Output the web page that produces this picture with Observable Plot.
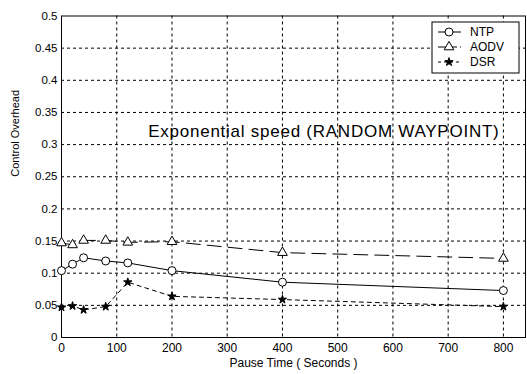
<!DOCTYPE html>
<html>
<head>
<meta charset="utf-8">
<script src="https://cdn.jsdelivr.net/npm/d3@7"></script>
<script src="https://cdn.jsdelivr.net/npm/@observablehq/plot@0.6"></script>
<style>
  html, body { margin: 0; padding: 0; background: #fff; }
  #chart { width: 527px; height: 374px; }
</style>
</head>
<body>
<div id="chart"></div>
<script>
const pauseTimes = [0, 20, 40, 80, 120, 200, 400, 800];
const ntpValues  = [0.104, 0.114, 0.124, 0.119, 0.116, 0.104, 0.086, 0.073];
const aodvValues = [0.147, 0.144, 0.151, 0.151, 0.148, 0.149, 0.132, 0.123];
const dsrValues  = [0.047, 0.049, 0.043, 0.048, 0.086, 0.064, 0.059, 0.048];
const seriesNames = ["NTP", "AODV", "DSR"];
const xTicks = [0, 100, 200, 300, 400, 500, 600, 700, 800];
const yTicks = [0, 0.05, 0.1, 0.15, 0.2, 0.25, 0.3, 0.35, 0.4, 0.45, 0.5];
const annotation = "Exponential speed (RANDOM WAYPOINT)";
const xLabel = "Pause Time ( Seconds )";
const yLabel = "Control Overhead";

const toRows = vals => pauseTimes.map((x, i) => ({x, y: vals[i]}));
const ntp = toRows(ntpValues), aodv = toRows(aodvValues), dsr = toRows(dsrValues);

const W = 527, H = 374, mL = 61, mR = 2, mT = 15.5, mB = 37;
const font = "'Liberation Sans', Arial, sans-serif";
const sizes = [4, 3.6, 2.6];

const plot = Plot.plot({
  width: W, height: H,
  marginLeft: mL, marginRight: mR, marginTop: mT, marginBottom: mB,
  style: {fontFamily: font, background: "#fff", color: "#000"},
  x: {domain: [0, 840], ticks: xTicks},
  y: {domain: [0, 0.5], ticks: yTicks},
  marks: [
    Plot.gridX(xTicks.filter(d => d > 0), {stroke: "#000", strokeOpacity: 1, strokeWidth: 1, strokeDasharray: "3,3"}),
    Plot.gridY(yTicks.filter(d => d > 0 && d < 0.5), {stroke: "#000", strokeOpacity: 1, strokeWidth: 1, strokeDasharray: "3,3"}),
    Plot.frame({stroke: "#000", strokeWidth: 1}),
    Plot.axisX({ticks: xTicks, tickSize: 0, tickPadding: 6, fontSize: 12, label: null}),
    Plot.axisY({ticks: yTicks, tickSize: 0, tickPadding: 4, fontSize: 11.5, label: null, tickFormat: d => d === 0 ? "0" : String(+d.toFixed(2))}),
    Plot.text([xLabel], {frameAnchor: "bottom", dy: 29, fontSize: 12, text: d => d}),
    Plot.text([yLabel], {frameAnchor: "left", dx: -46, rotate: -90, fontSize: 11, text: d => d}),
    Plot.text([annotation], {x: () => 157, y: () => 0.3115, textAnchor: "start", lineAnchor: "bottom", fontSize: 17, text: d => d, className: "annot"}),
    Plot.line(ntp, {x: "x", y: "y", stroke: "#000", strokeWidth: 1}),
    Plot.line(aodv, {x: "x", y: "y", stroke: "#000", strokeWidth: 1, strokeDasharray: "14,7"}),
    Plot.line(dsr, {x: "x", y: "y", stroke: "#000", strokeWidth: 1, strokeDasharray: "4,4"}),
    Plot.dot(ntp, {x: "x", y: "y", symbol: "circle", r: sizes[0], stroke: "#000", fill: "#fff", strokeWidth: 1}),
    Plot.dot(aodv, {x: "x", y: "y", symbol: "triangle", r: sizes[1], stroke: "#000", fill: "#fff", strokeWidth: 1}),
    Plot.dot(dsr, {x: "x", y: "y", symbol: "star", r: sizes[2], stroke: "#000", fill: "#000", strokeWidth: 1})
  ]
});

const svg = d3.select(plot);
svg.selectAll("g.annot text").attr("letter-spacing", "0.75px");

// Legend box inside the plot (top-right)
const lg = svg.append("g").attr("font-family", font).attr("font-size", 12).attr("text-anchor", "start");
const bx = 432, by = 22, bw = 87, bh = 51;
lg.append("rect").attr("x", bx).attr("y", by).attr("width", bw).attr("height", bh)
  .attr("fill", "#fff").attr("stroke", "#000");
const syms = [d3.symbolCircle, d3.symbolTriangle, d3.symbolStar];
seriesNames.forEach((name, i) => {
  const yy = by + 10 + i * 15;
  const ln = lg.append("line").attr("x1", bx + 6).attr("x2", bx + 29).attr("y1", yy).attr("y2", yy)
    .attr("stroke", "#000");
  if (i === 1) ln.attr("stroke-dasharray", "8,3");
  if (i === 2) ln.attr("stroke-dasharray", "3,3");
  const r = sizes[i];
  lg.append("path").attr("d", d3.symbol(syms[i], Math.PI * r * r)())
    .attr("transform", `translate(${bx + 17},${yy})`)
    .attr("fill", i === 2 ? "#000" : "#fff").attr("stroke", "#000");
  lg.append("text").attr("x", bx + 38).attr("y", yy).attr("dy", "0.35em").attr("text-anchor", "start").text(name);
});

document.getElementById("chart").appendChild(plot);
</script>
</body>
</html>
